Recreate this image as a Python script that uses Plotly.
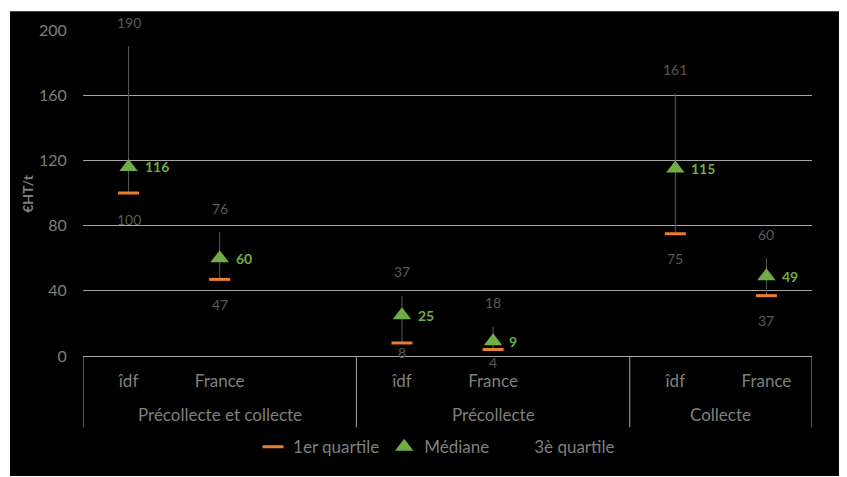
import plotly.graph_objects as go

# Data (€HT/t)
groups = ["Précollecte et collecte", "Précollecte", "Collecte"]
sub_labels = ["îdf", "France", "", "îdf", "France", "", "îdf", "France"]
q1 = [100, 47, None, 8, 4, None, 75, 37]
mediane = [116, 60, None, 25, 9, None, 115, 49]
q3 = [190, 76, None, 37, 18, None, 161, 60]

# label offsets (px) for the 1er quartile values
q1_shift = [-26, -25, 0, -10, -13, 0, -25, -25]

x = list(range(len(sub_labels)))
gray = "#7f7f7f"
dark = "#595959"
green = "#70AD47"
orange = "#ED7D31"
font = "Lato, Open Sans, sans-serif"

fig = go.Figure()

# high-low lines between 1er and 3è quartile
lx, ly = [], []
for i in x:
    if q1[i] is None:
        continue
    lx += [i, i, None]
    ly += [q1[i], q3[i], None]
fig.add_trace(go.Scatter(x=lx, y=ly, mode="lines", line=dict(color=dark, width=1),
                         hoverinfo="skip", showlegend=False))

fig.add_trace(go.Scatter(x=x, y=q1, mode="markers", name="1er quartile",
                         marker=dict(symbol="line-ew", size=15,
                                     line=dict(color=orange, width=3))))
fig.add_trace(go.Scatter(x=x, y=mediane, mode="markers", name="Médiane",
                         marker=dict(symbol="triangle-up", size=16, color=green)))
fig.add_trace(go.Scatter(x=x, y=q3, mode="markers", name="3è quartile",
                         marker=dict(size=8, color="rgba(0,0,0,0)")))

ann = []
for i in x:
    if q1[i] is None:
        continue
    ann.append(dict(x=i, y=q3[i], text=str(q3[i]), showarrow=False, yshift=24,
                    font=dict(color=dark, size=14, family=font)))
    ann.append(dict(x=i, y=q1[i], text=str(q1[i]), showarrow=False, yshift=q1_shift[i],
                    font=dict(color=dark, size=14, family=font)))
    ann.append(dict(x=i, y=mediane[i], text="<b>%d</b>" % mediane[i], showarrow=False,
                    xanchor="left", xshift=14,
                    font=dict(color=green, size=14, family=font)))

# group labels under the sub categories
group_centers = [1, 4, 6.5]
for g, name in enumerate(groups):
    ann.append(dict(x=group_centers[g], y=-0.18, xref="x", yref="paper",
                    text=name, showarrow=False, yanchor="middle",
                    font=dict(color=gray, size=17, family=font)))

ann.append(dict(x=-0.077, y=0.5, xref="paper", yref="paper", text="<b>€HT/t</b>",
                textangle=-90, showarrow=False, xanchor="center", yanchor="middle",
                font=dict(color=gray, size=14, family=font)))

shapes = [dict(type="rect", xref="paper", yref="paper", x0=-0.1001, x1=1.0453,
               y0=-0.3678, y1=1.0578, fillcolor="black", line=dict(width=0), layer="below")]
for b in [-0.5, 2.5, 5.5, 7.5]:
    shapes.append(dict(type="line", xref="x", yref="paper", x0=b, x1=b, y0=0, y1=-0.219,
                       line=dict(color="#a6a6a6", width=1)))

fig.update_layout(
    width=847, height=477,
    margin=dict(l=75, r=43, t=19, b=129),
    paper_bgcolor="white", plot_bgcolor="rgba(0,0,0,0)",
    font=dict(family=font, color=gray, size=16),
    annotations=ann, shapes=shapes,
    legend=dict(orientation="h", x=0.485, xanchor="center", y=-0.28, yanchor="middle",
                font=dict(color=gray, size=17, family=font), itemwidth=30,
                bgcolor="rgba(0,0,0,0)"),
    xaxis=dict(range=[-0.5, 7.5], tickvals=[i for i in x if sub_labels[i]],
               ticktext=[s for s in sub_labels if s], showgrid=False, zeroline=False,
               showline=True, linecolor="#a6a6a6", linewidth=1,
               ticks="outside", ticklen=10, tickcolor="rgba(0,0,0,0)",
               tickfont=dict(color=gray, size=17, family=font)),
    yaxis=dict(range=[0, 200], dtick=40, showgrid=True, gridcolor="#a6a6a6", gridwidth=1,
               zeroline=False, ticks="outside", ticklen=12, tickcolor="rgba(0,0,0,0)",
               tickfont=dict(color=gray, size=16, family=font)),
)

fig.write_html("out.html")
